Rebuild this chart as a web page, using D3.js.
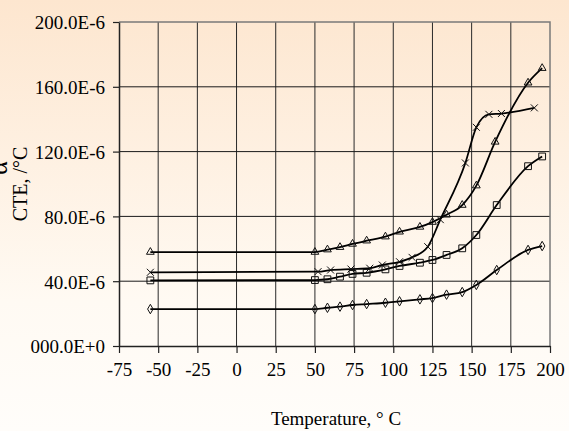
<!DOCTYPE html>
<html lang="en">
<head>
  <meta charset="UTF-8">
  <title>CTE vs Temperature</title>
  <style>
    body { margin: 0; }
    svg { display: block; }
    text { font-family: "Liberation Serif", "Times New Roman", serif; fill: #000; }
  </style>
  <script src="https://d3js.org/d3.v7.min.js"></script>
</head>
<body>
  <svg width="569" height="431"></svg>
  <script>
    // temperatures (deg C) and CTE values (x 1e-6 /deg C) per series
    const triT = [-55, 50, 58, 66, 74, 83, 95, 104, 117, 125, 134, 144, 153, 165, 186, 195];
    const triV = [58, 58, 59.5, 61, 63, 65, 67.5, 70.5, 73.5, 76.5, 81, 87, 99, 126, 162.5, 171.5];

    const sqT = [-55, 50, 58, 66, 74, 83, 95, 104, 117, 125, 134, 144, 153, 166, 186, 195];
    const sqV = [40.5, 40.7, 41.2, 42.8, 44.5, 45.2, 47.3, 49.4, 51.4, 53.1, 56.2, 60.3, 68.5, 87, 111, 117];

    const crT = [-55, 52, 60, 73, 85, 93, 104, 112, 122, 130, 146, 153, 161, 169, 190];
    const crV = [45.5, 45.9, 46.9, 47.5, 48, 50, 52, 54.7, 61.3, 78, 113, 135, 143, 143.5, 147];

    const diT = [-55, 50, 58, 66, 74, 83, 95, 104, 117, 125, 134, 144, 153, 166, 186, 195];
    const diV = [22.8, 22.8, 23.6, 24.3, 25.3, 25.9, 26.7, 27.6, 28.8, 29.6, 31.7, 33.3, 37.7, 46.9, 59.3, 61.7];

    const xTicks = [-75, -50, -25, 0, 25, 50, 75, 100, 125, 150, 175, 200];
    const yTicks = [0, 40, 80, 120, 160, 200];
    const yTickLabels = ["000.0E+0", "40.0E-6", "80.0E-6", "120.0E-6", "160.0E-6", "200.0E-6"];

    const svg = d3.select("svg");
    const width = +svg.attr("width");
    const height = +svg.attr("height");

    // background gradient
    const grad = svg.append("defs").append("linearGradient")
      .attr("id", "bg").attr("x1", 0).attr("y1", 0).attr("x2", 0).attr("y2", 1);
    grad.append("stop").attr("offset", "0").attr("stop-color", "#fde6cf");
    grad.append("stop").attr("offset", "0.7").attr("stop-color", "#fffaf3");
    grad.append("stop").attr("offset", "1").attr("stop-color", "#fffdfa");
    svg.append("rect").attr("width", width).attr("height", height).attr("fill", "url(#bg)");

    const x = d3.scaleLinear().domain([-75, 200]).range([119, 550]);
    const y = d3.scaleLinear().domain([0, 200]).range([346, 22]);

    // grid
    svg.append("g").selectAll("line").data(xTicks.slice(1, -1)).enter().append("line")
      .attr("x1", d => x(d)).attr("x2", d => x(d))
      .attr("y1", y(200)).attr("y2", y(0))
      .attr("stroke", "#2a2a2a").attr("stroke-width", 1);
    svg.append("g").selectAll("line").data(yTicks.slice(1, -1)).enter().append("line")
      .attr("x1", x(-75)).attr("x2", x(200))
      .attr("y1", d => y(d)).attr("y2", d => y(d))
      .attr("stroke", "#1a1a1a").attr("stroke-width", 1);

    // border top / right
    svg.append("path")
      .attr("d", `M${x(-75)},${y(200)}H${x(200)}V${y(0)}`)
      .attr("fill", "none").attr("stroke", "#7a7a7a").attr("stroke-width", 1.5);

    // axes
    const xAxis = svg.append("g")
      .attr("transform", `translate(0,${y(0)})`)
      .call(d3.axisBottom(x).tickValues(xTicks).tickSize(7).tickPadding(10).tickSizeOuter(0)
        .tickFormat(d => String(d)));
    const yAxis = svg.append("g")
      .attr("transform", `translate(${x(-75)},0)`)
      .call(d3.axisLeft(y).tickValues(yTicks).tickSize(6).tickPadding(8).tickSizeOuter(0)
        .tickFormat((d, i) => yTickLabels[i]));
    [xAxis, yAxis].forEach(a => {
      a.select(".domain").attr("stroke", "#222").attr("stroke-width", 1.5);
      a.selectAll(".tick line").attr("stroke", "#222").attr("stroke-width", 1.2);
      a.selectAll("text").attr("font-size", 19).attr("font-family", "Liberation Serif");
    });
    yAxis.selectAll("text").attr("dy", "0.36em");

    // axis titles
    svg.append("text")
      .attr("x", 336).attr("y", 425)
      .attr("text-anchor", "middle").attr("font-size", 19)
      .text("Temperature, \u00B0 C");
    svg.append("text")
      .attr("transform", "translate(27,184) rotate(-90)")
      .attr("text-anchor", "middle").attr("font-size", 20)
      .text("CTE, /\u00B0C");
    svg.append("text")
      .attr("transform", "translate(7,168) rotate(-90)")
      .attr("text-anchor", "middle").attr("font-size", 26)
      .text("\u03B1");

    // series
    const line = d3.line().x(d => x(d[0])).y(d => y(d[1])).curve(d3.curveMonotoneX);
    const crossPath = "M-3.5,-3.5L3.5,3.5M-3.5,3.5L3.5,-3.5";
    const series = [
      { t: triT, v: triV, sym: d3.symbol().type(d3.symbolTriangle).size(26)() },
      { t: sqT, v: sqV, sym: d3.symbol().type(d3.symbolSquare).size(46)() },
      { t: crT, v: crV, sym: crossPath },
      { t: diT, v: diV, sym: d3.symbol().type(d3.symbolDiamond).size(26)() }
    ];

    series.forEach(s => {
      const pts = s.t.map((t, i) => [t, s.v[i]]);
      svg.append("path").datum(pts)
        .attr("d", line)
        .attr("fill", "none").attr("stroke", "#000").attr("stroke-width", 1.8);
      svg.append("g").selectAll("path").data(pts).enter().append("path")
        .attr("transform", d => `translate(${x(d[0])},${y(d[1])})`)
        .attr("d", s.sym)
        .attr("fill", "none").attr("stroke", "#111").attr("stroke-width", 1);
    });
  </script>
</body>
</html>
